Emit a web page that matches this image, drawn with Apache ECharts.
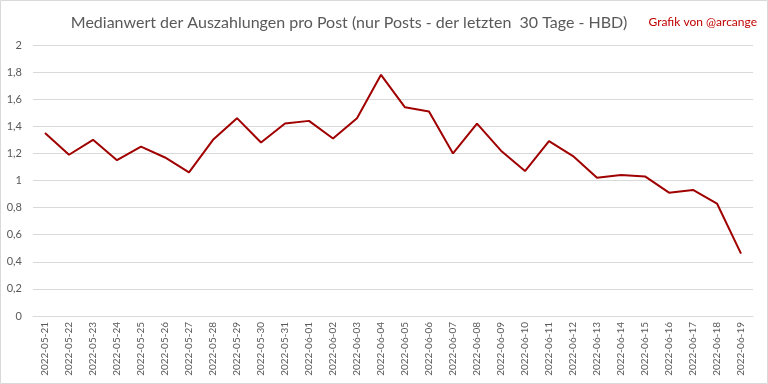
<!DOCTYPE html>
<html><head><meta charset="utf-8">
<script src="https://cdn.jsdelivr.net/npm/echarts@6/dist/echarts.min.js"></script>
<style>html,body{margin:0;padding:0;background:#fff}#c{width:768px;height:384px}</style>
</head><body><div id="c"></div>
<script>
const categories = ["2022-05-21","2022-05-22","2022-05-23","2022-05-24","2022-05-25","2022-05-26","2022-05-27","2022-05-28","2022-05-29","2022-05-30","2022-05-31","2022-06-01","2022-06-02","2022-06-03","2022-06-04","2022-06-05","2022-06-06","2022-06-07","2022-06-08","2022-06-09","2022-06-10","2022-06-11","2022-06-12","2022-06-13","2022-06-14","2022-06-15","2022-06-16","2022-06-17","2022-06-18","2022-06-19"];
const medianValues = [1.35,1.19,1.30,1.15,1.25,1.17,1.06,1.30,1.46,1.28,1.42,1.44,1.31,1.46,1.78,1.54,1.51,1.20,1.42,1.22,1.07,1.29,1.18,1.02,1.04,1.03,0.91,0.93,0.83,0.46];
const titleText = "Medianwert der Auszahlungen pro Post (nur Posts - der letzten  30 Tage - HBD)";
const creditText = "Grafik von @arcange";

const chart = echarts.init(document.getElementById('c'), null, {renderer:'canvas'});
chart.setOption({
  animation:false,
  backgroundColor:'#fff',
  title:[{
    text:titleText, left:344, top:10, textAlign:'center',
    textStyle:{color:'#595959', fontSize:16, fontWeight:'normal', fontFamily:'Lato'}
  },{
    text:creditText, right:6, top:11,
    textStyle:{color:'#c00000', fontSize:12, fontWeight:'normal', fontFamily:'Lato'}
  }],
  graphic:[{type:'rect', shape:{x:0.5,y:0.5,width:767,height:383}, style:{fill:'none', stroke:'#d9d9d9', lineWidth:1}, silent:true}],
  grid:{left:33, right:15, top:45, bottom:68},
  xAxis:{
    type:'category', data:categories, boundaryGap:true,
    axisLine:{lineStyle:{color:'#d9d9d9'}}, axisTick:{show:false},
    axisLabel:{rotate:90, interval:0, color:'#595959', fontSize:10, fontFamily:'Lato', margin:6}
  },
  yAxis:{
    type:'value', min:0, max:2, interval:0.2,
    axisLine:{show:false}, axisTick:{show:false},
    splitLine:{lineStyle:{color:'#d9d9d9'}},
    axisLabel:{color:'#595959', fontSize:11, fontFamily:'Lato', margin:11,
      formatter:v=>String(Math.round(v*10)/10).replace('.',',')}
  },
  series:[{type:'line', data:medianValues, symbol:'none', lineStyle:{color:'#a00000', width:2}}]
});
</script></body></html>
